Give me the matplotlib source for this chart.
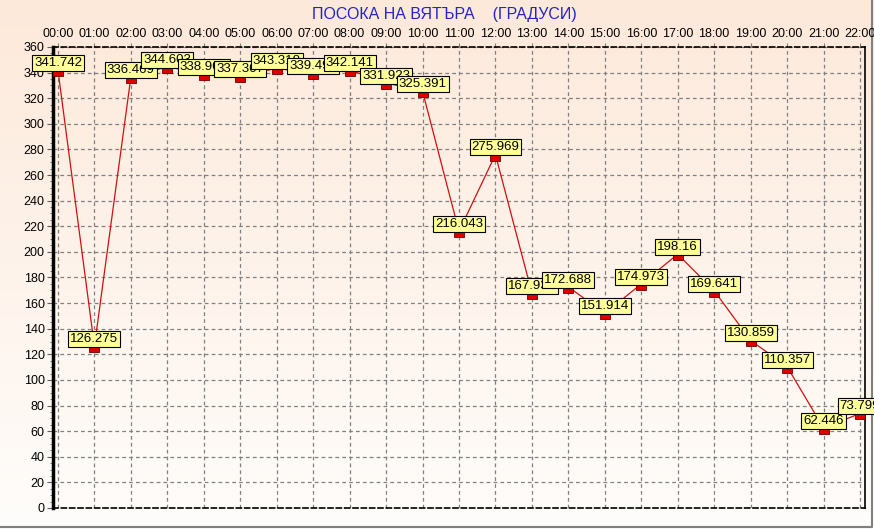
import numpy as np
import matplotlib
matplotlib.use('Agg')
import matplotlib.pyplot as plt
from matplotlib.path import Path
from matplotlib.ticker import MultipleLocator
from matplotlib.colors import LinearSegmentedColormap

# данни - посока на вятъра по часове
hours = ['00:00', '01:00', '02:00', '03:00', '04:00', '05:00', '06:00', '07:00',
         '08:00', '09:00', '10:00', '11:00', '12:00', '13:00', '14:00', '15:00',
         '16:00', '17:00', '18:00', '19:00', '20:00', '21:00', '22:00']
direction = [341.742, 126.275, 336.469, 344.603, 338.965, 337.367, 343.318, 339.492,
             342.141, 331.923, 325.391, 216.043, 275.969, 167.934, 172.688, 151.914,
             174.973, 198.16, 169.641, 130.859, 110.357, 62.446, 73.799]

plt.rcParams['font.family'] = ['Liberation Sans', 'DejaVu Sans']

fig = plt.figure(figsize=(8.74, 5.29), dpi=100)

# фон с градиент
grad = LinearSegmentedColormap.from_list('bg', ['#fffdfb', '#fde9da'])
bg = fig.add_axes([0, 0, 1, 1], zorder=-10)
bg.imshow(np.linspace(0, 1, 256).reshape(-1, 1), aspect='auto', cmap=grad,
          origin='lower', extent=[0, 1, 0, 1])
bg.set_xlim(0, 1)
bg.set_ylim(0, 1)
bg.plot([0, 0.9975, 0.9975], [0.0045, 0.0045, 1], color='#808080', lw=1.5)
bg.axis('off')

ax = fig.add_axes([0.0606, 0.0397, 0.9291, 0.8715])
ax.patch.set_alpha(0)

x = np.arange(len(hours))
ax.plot(x, direction, color='#d01010', lw=0.9, zorder=3)

# маркер - правоъгълник под точката
rect = Path([(-1, -1.2), (1, -1.2), (1, 0), (-1, 0), (-1, -1.2)],
            [Path.MOVETO, Path.LINETO, Path.LINETO, Path.LINETO, Path.CLOSEPOLY])
ax.plot(x, direction, ls='none', marker=rect, ms=8.5, mfc='#dd0000',
        mec='#700000', mew=0.6, zorder=4)

for i, v in enumerate(direction):
    ax.annotate(f'{v:g}', (x[i], v), xytext=(0, 0.8), textcoords='offset points',
                ha='center', va='bottom', fontsize=9.5, zorder=5 + i,
                bbox=dict(boxstyle='square,pad=0.15', fc='#ffff99', ec='black', lw=0.8),
                annotation_clip=False)

ax.set_xlim(-0.137, 22.137)
ax.set_ylim(0, 360)
ax.set_xticks(x)
ax.set_xticklabels(hours)
ax.xaxis.tick_top()
ax.yaxis.set_major_locator(MultipleLocator(20))
ax.yaxis.set_minor_locator(MultipleLocator(5))
ax.tick_params(axis='x', length=3, color='#808080', pad=2, labelsize=9)
ax.tick_params(axis='y', which='major', length=4, labelsize=9, pad=2, color='#606060')
ax.tick_params(axis='y', which='minor', length=2, color='#606060')
ax.grid(True, ls=(0, (3, 2.5)), color='#808080', lw=0.9)

ax.spines['left'].set_linewidth(2.5)
ax.spines['right'].set_linewidth(1.2)
ax.spines['top'].set_linestyle((0, (3, 2)))
ax.spines['bottom'].set_linestyle((0, (3, 2)))
ax.spines['top'].set_linewidth(1.2)
ax.spines['bottom'].set_linewidth(1.2)

fig.text(0.509, 0.972, 'ПОСОКА НА ВЯТЪРА    (ГРАДУСИ)', ha='center', va='center',
         fontsize=11.5, color='#2424c8')

fig.savefig('out.png', dpi=100)
